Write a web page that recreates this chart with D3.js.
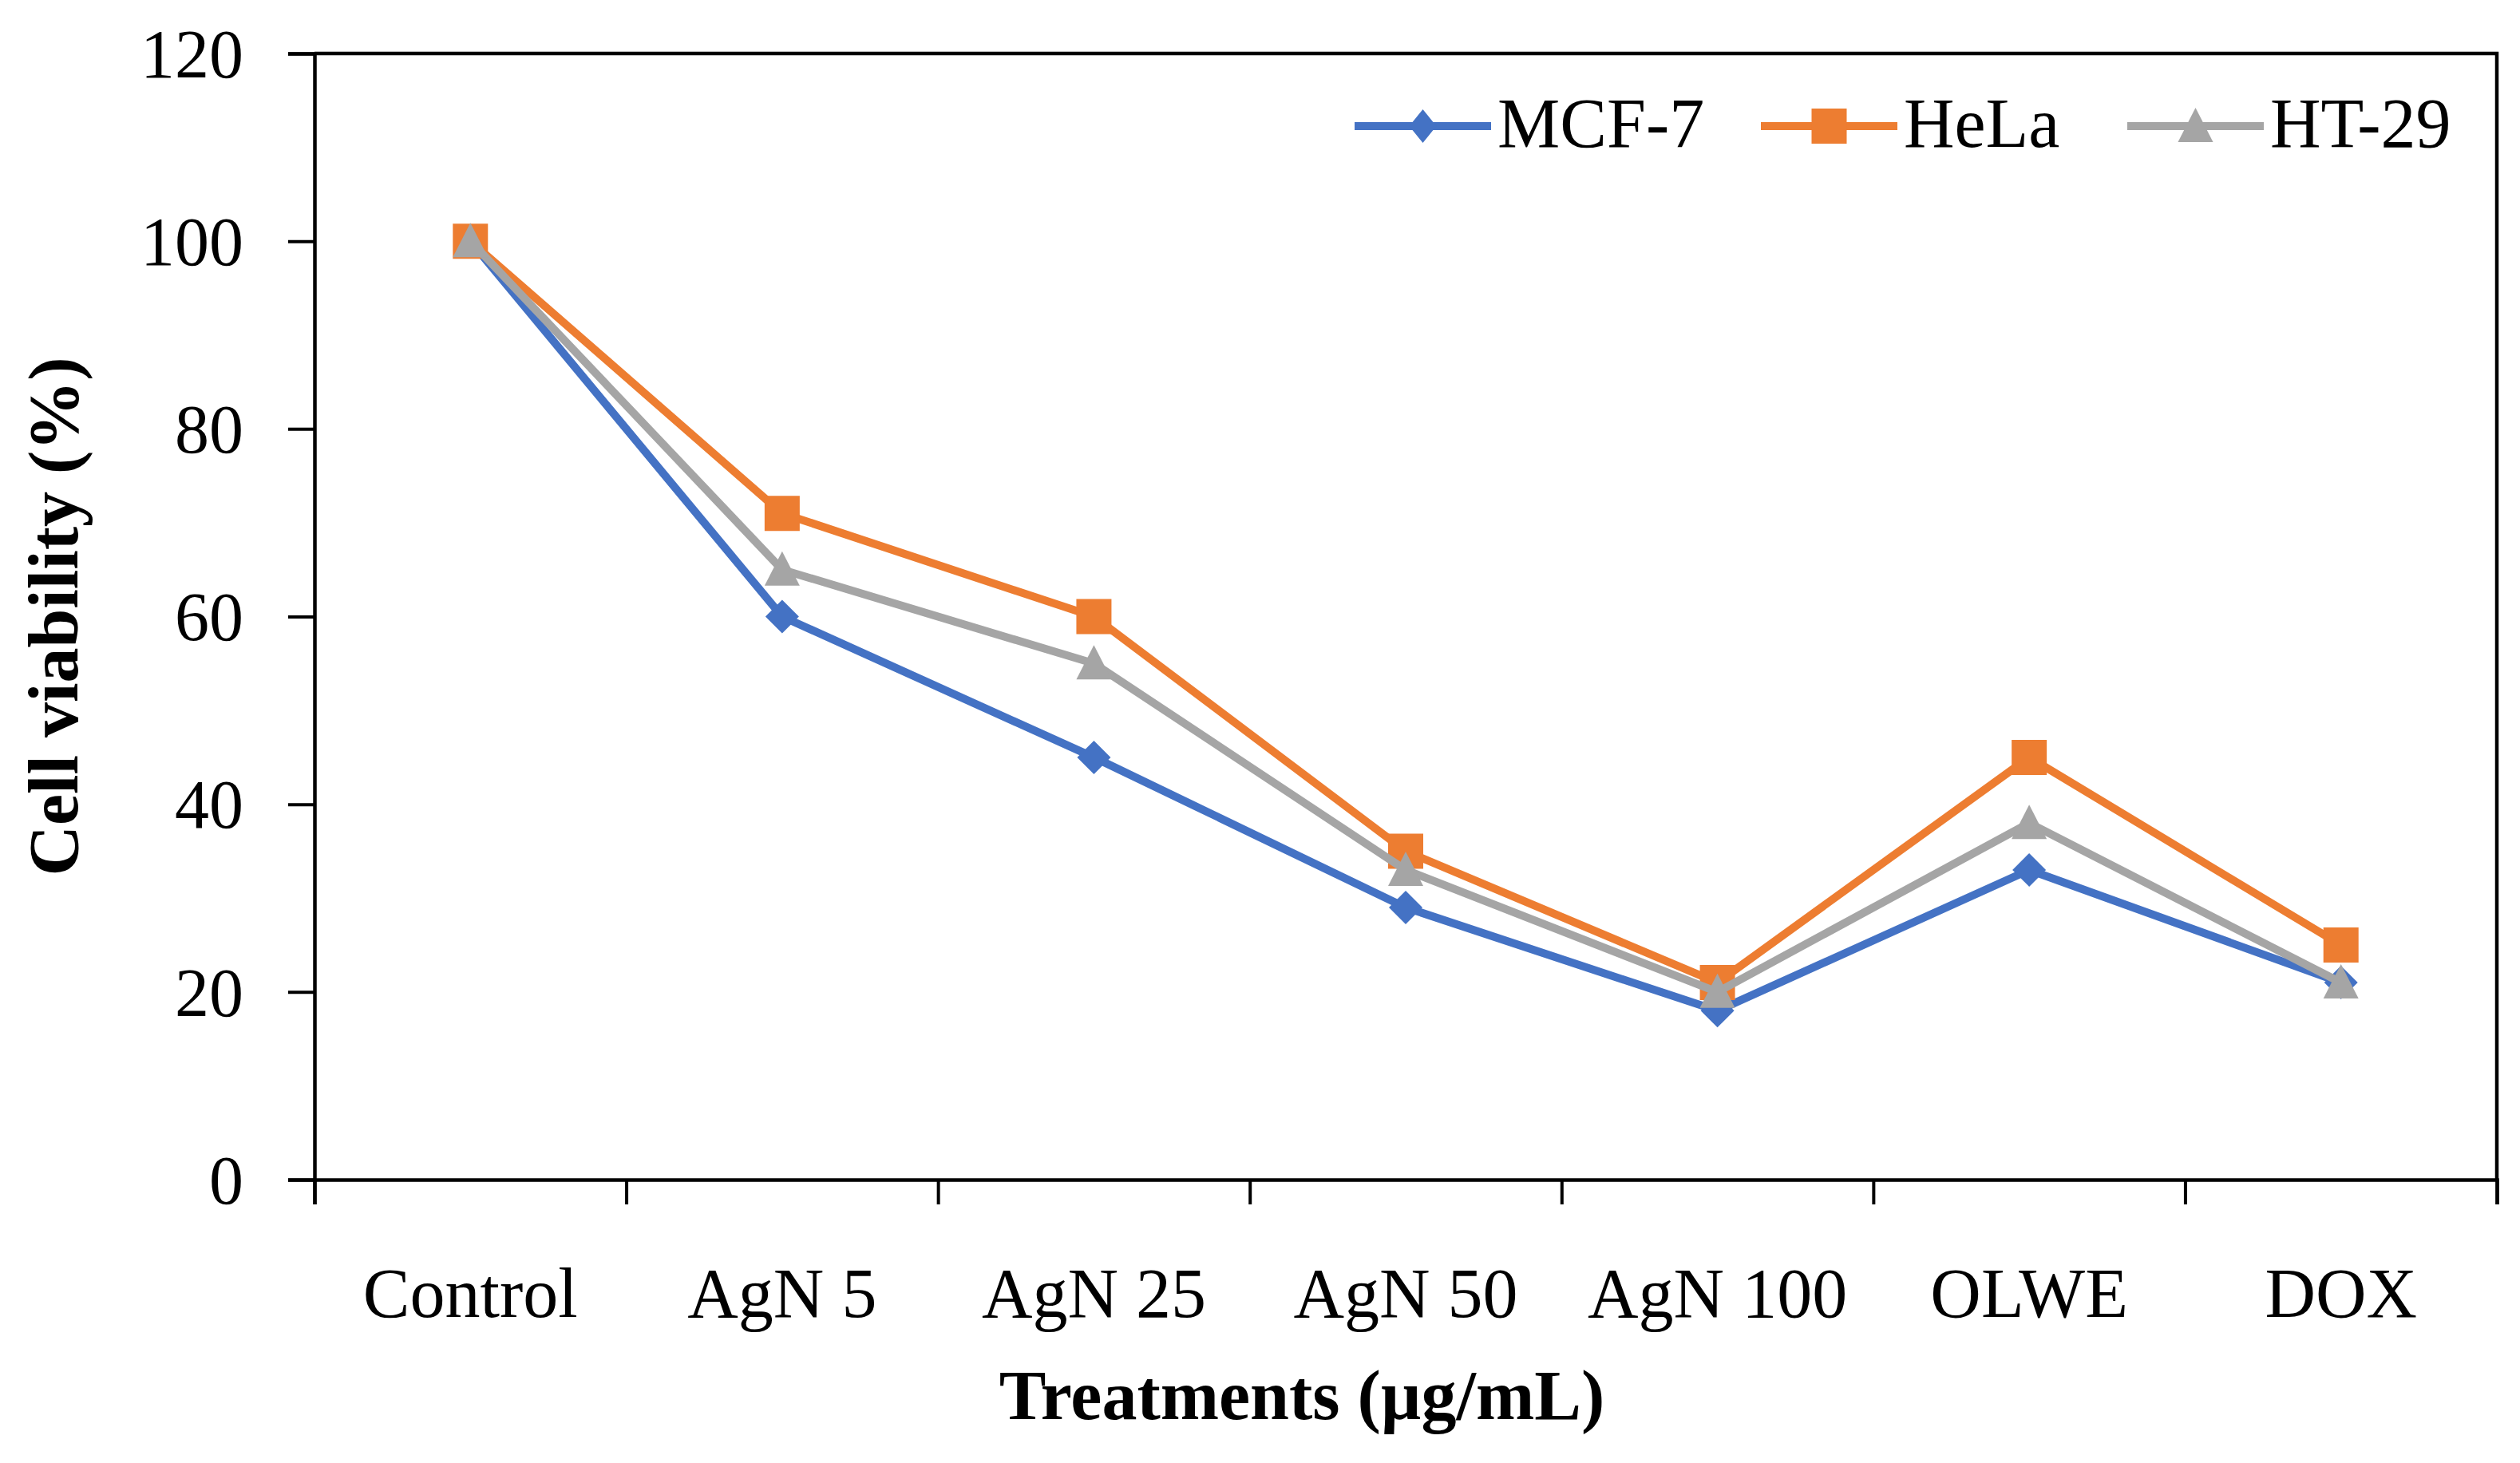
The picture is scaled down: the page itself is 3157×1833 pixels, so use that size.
<!DOCTYPE html>
<html>
<head>
<meta charset="utf-8">
<script src="https://cdn.jsdelivr.net/npm/d3@7"></script>
<style>
  body { margin: 0; background: #fff; }
  text { font-family: "Palatino Linotype", "Book Antiqua", Palatino, "Liberation Serif", serif; fill: #000; }
</style>
</head>
<body>
<svg id="vis"></svg>
<script>
// data
const treatments = ["Control", "AgN 5", "AgN 25", "AgN 50", "AgN 100", "OLWE", "DOX"];
const seriesNames = ["MCF-7", "HeLa", "HT-29"];
const mcf7 = [100, 60, 45, 29, 18, 33, 21];
const hela = [100, 71, 60, 35, 21, 45, 25];
const ht29 = [100, 65, 55, 33, 20, 38, 21];
const yTicks = [0, 20, 40, 60, 80, 100, 120];

const colors = ["#4472C4", "#ED7D31", "#A5A5A5"];
const shapes = ["diamond", "square", "triangle"];

const width = 3157, height = 1833;
const margin = {left: 394, right: 29, top: 67, bottom: 355};

const svg = d3.select("#vis")
  .attr("width", width)
  .attr("height", height);

const x = d3.scaleBand()
  .domain(treatments)
  .range([margin.left, width - margin.right]);

// boundaries between categories, for the tick marks
const xEdge = d3.scaleLinear()
  .domain([0, treatments.length])
  .range([margin.left, width - margin.right]);

const y = d3.scaleLinear()
  .domain([0, 120])
  .range([height - margin.bottom, margin.top]);

// marker shapes, centred on (0,0)
function markerPath(shape, legend) {
  if (shape === "square") return "M-22,-22H22V22H-22Z";
  if (shape === "triangle") return "M0,-23L22,20H-22Z";
  const w = legend ? 17 : 21;
  return `M0,-21L${w},0L0,21L${-w},0Z`;
}

// plot frame (top and right)
svg.append("path")
  .attr("d", `M${margin.left},${y(120)}H${width - margin.right}V${y(0)}`)
  .attr("fill", "none")
  .attr("stroke", "#000")
  .attr("stroke-width", 4.5);

// y axis
const yAxis = svg.append("g")
  .attr("transform", `translate(${margin.left},0)`)
  .call(d3.axisLeft(y).tickValues(yTicks).tickSize(33).tickPadding(56));
yAxis.select(".domain").attr("stroke-width", 4.5);
yAxis.selectAll(".tick line").attr("stroke-width", 4);
yAxis.selectAll("text")
  .attr("font-size", 86)
  .attr("dy", "0.34em")
  .style("font-family", null);

// x axis: tick marks on category edges
const xTicks = svg.append("g")
  .attr("transform", `translate(0,${y(0)})`)
  .call(d3.axisBottom(xEdge).tickValues(d3.range(treatments.length + 1)).tickSize(31).tickFormat(""));
xTicks.select(".domain").attr("stroke-width", 4.5);
xTicks.selectAll(".tick line").attr("stroke-width", 4);

// x axis: labels in the middle of each category
const xLabels = svg.append("g")
  .attr("transform", `translate(0,${y(0)})`)
  .call(d3.axisBottom(x).tickSize(0).tickPadding(0));
xLabels.select(".domain").remove();
xLabels.selectAll("text")
  .attr("font-size", 88)
  .attr("dy", null)
  .attr("y", 172)
  .style("font-family", null);

svg.selectAll("g.tick text").attr("fill", "#000");

// lines and markers
const seriesData = [mcf7, hela, ht29];
const line = d3.line()
  .x((d, i) => x(treatments[i]) + x.bandwidth() / 2)
  .y(d => y(d));

seriesData.forEach((vals, s) => {
  const g = svg.append("g").attr("class", "series");
  g.append("path")
    .datum(vals)
    .attr("d", line)
    .attr("fill", "none")
    .attr("stroke", colors[s])
    .attr("stroke-width", 10)
    .attr("stroke-linejoin", "round");
  g.selectAll("path.marker")
    .data(vals)
    .join("path")
    .attr("class", "marker")
    .attr("d", markerPath(shapes[s], false))
    .attr("transform", (d, i) => `translate(${x(treatments[i]) + x.bandwidth() / 2},${y(d)})`)
    .attr("fill", colors[s]);
});

// legend
const legendX = [1697, 2206, 2665];
const legendY = 158;
const legend = svg.append("g");
seriesNames.forEach((name, s) => {
  const lg = legend.append("g").attr("transform", `translate(${legendX[s]},${legendY})`);
  lg.append("line")
    .attr("x1", 0).attr("x2", 171)
    .attr("stroke", colors[s])
    .attr("stroke-width", 10);
  lg.append("path")
    .attr("d", markerPath(shapes[s], true))
    .attr("transform", "translate(85.5,0)")
    .attr("fill", colors[s]);
  lg.append("text")
    .attr("x", 179)
    .attr("y", 26)
    .attr("font-size", 88)
    .text(name);
});

// axis titles
svg.append("text")
  .attr("x", x.range()[0] + (x.range()[1] - x.range()[0]) / 2 - 130)
  .attr("y", 1778)
  .attr("text-anchor", "middle")
  .attr("font-size", 88)
  .attr("font-weight", "bold")
  .text("Treatments (µg/mL)");

svg.append("text")
  .attr("transform", `translate(97,${(y(0) + y(120)) / 2}) rotate(-90)`)
  .attr("text-anchor", "middle")
  .attr("font-size", 88)
  .attr("font-weight", "bold")
  .text("Cell viability (%)");
</script>
</body>
</html>
